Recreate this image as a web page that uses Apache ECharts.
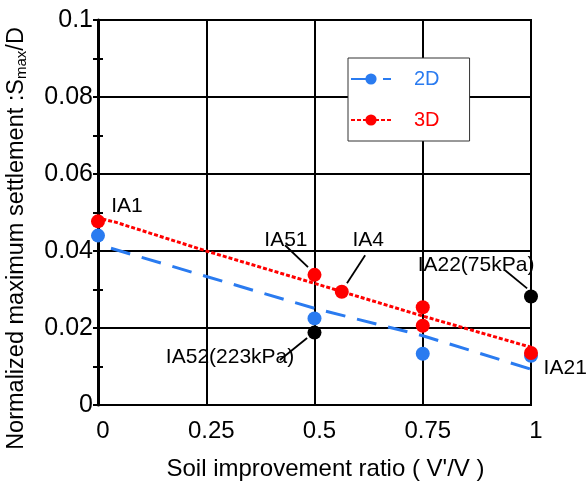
<!DOCTYPE html>
<html>
<head>
<meta charset="utf-8">
<script src="https://cdn.jsdelivr.net/npm/echarts@6/dist/echarts.min.js"></script>
<style>
html,body{margin:0;padding:0;background:#fff;}
#chart{width:588px;height:488px;}
</style>
</head>
<body>
<div id="chart"></div>
<script>
// ---- data ----
var xTicks = [0, 0.25, 0.5, 0.75, 1];
var yTicks = [0, 0.02, 0.04, 0.06, 0.08, 0.1];
var points2D = [[0, 0.0440], [0.5, 0.0225], [0.75, 0.0133], [1.0, 0.0128]];
var points3D = [[0, 0.0477], [0.5, 0.0338], [0.563, 0.0294], [0.75, 0.0254], [0.75, 0.0206], [1.0, 0.0135]];
var pointsBlack = [[0.5, 0.0188], [1.0, 0.0282]];
var trend2D = [[0.03, 0.0407], [0.5, 0.0251], [0.75, 0.0180], [1.0, 0.0093]];
var trend3D = [[0.01, 0.0483], [0.04, 0.0475], [0.25, 0.0400], [0.5, 0.0316], [0.75, 0.0231], [1.0, 0.0150]];
var labelNames = ['IA1', 'IA51', 'IA4', 'IA22(75kPa)', 'IA52(223kPa)', 'IA21'];
var labelPos = [[0.067, 0.0516], [0.434, 0.0427], [0.624, 0.0427], [0.873, 0.0363], [0.305, 0.0124], [1.079, 0.0096]];
var arrowFrom = [[0.432, 0.0415], [0.617, 0.0389], [0.420, 0.0117], [0.940, 0.0350]];
var arrowTo = [[0.485, 0.0358], [0.575, 0.0316], [0.483, 0.0174], [0.991, 0.0303]];

var FONT = 'Liberation Sans, Arial, sans-serif';
var BLUE = '#2a7bf0';
var RED = '#ff0000';

function fmt(v) { return String(+(+v).toFixed(2)); }

var chart = echarts.init(document.getElementById('chart'));
chart.setOption({
  animation: false,
  backgroundColor: '#fff',
  grid: { left: 98, right: 57, top: 20, bottom: 83, containLabel: false, outerBoundsMode: 'none',
          show: true, borderColor: '#000', borderWidth: 2, backgroundColor: 'transparent' },
  legend: {
    data: ['2D', '3D'],
    orient: 'vertical',
    left: 348, top: 58,
    padding: [11, 30, 11, 2],
    itemGap: 21,
    itemWidth: 40, itemHeight: 14,
    backgroundColor: '#fff',
    borderColor: '#333', borderWidth: 1,
    textStyle: { fontFamily: FONT, fontSize: 20, padding: [0, 0, 0, 18], color: 'inherit' }
  },
  xAxis: [{
    type: 'value', min: xTicks[0], max: xTicks[xTicks.length - 1], interval: 0.25,
    name: "Soil improvement ratio ( V'/V )", nameLocation: 'middle', nameGap: 52,
    nameTextStyle: { fontFamily: FONT, fontSize: 24, color: '#000', padding: [0, 0, 0, 22] },
    axisLine: { show: true, onZero: false, lineStyle: { color: '#000', width: 2 } },
    axisTick: { show: false },
    axisLabel: { fontFamily: FONT, fontSize: 24, color: '#000', margin: 14, padding: [0, 0, 0, 10], formatter: fmt },
    splitLine: { show: true, lineStyle: { color: '#000', width: 2 } }
  }],
  yAxis: [{
    type: 'value', min: yTicks[0], max: yTicks[yTicks.length - 1], interval: 0.02,
    name: '{a|Normalized maximum settlement :S}{s|max}{a|/D}', nameLocation: 'middle', nameGap: 69, nameRotate: 90,
    nameTextStyle: { padding: [0, 52, 0, 0], rich: {
      a: { fontFamily: FONT, fontSize: 23.5, color: '#000' },
      s: { fontFamily: FONT, fontSize: 15, color: '#000', verticalAlign: 'bottom', padding: [9, 0, 0, 0] }
    } },
    axisLine: { show: true, onZero: false, lineStyle: { color: '#000', width: 3 } },
    axisTick: { show: true, inside: true, length: 5, lineStyle: { color: '#000', width: 2 } },
    minorTick: { show: true, splitNumber: 2, length: 5, lineStyle: { color: '#000', width: 2 } },
    axisLabel: { fontFamily: FONT, fontSize: 25, color: '#000', margin: 5, formatter: fmt },
    splitLine: { show: true, lineStyle: { color: '#000', width: 2 } }
  }, {
    type: 'value', position: 'right', min: yTicks[0], max: yTicks[yTicks.length - 1], interval: 0.02,
    axisLine: { show: false },
    axisTick: { show: true, inside: true, length: 5, lineStyle: { color: '#000', width: 2 } },
    minorTick: { show: true, splitNumber: 2, length: 5, lineStyle: { color: '#000', width: 2 } },
    axisLabel: { show: false },
    splitLine: { show: false }
  }],
  series: [
    {
      name: '2D', type: 'line', data: trend2D, symbol: 'circle', symbolSize: 13, showSymbol: false,
      itemStyle: { color: BLUE },
      lineStyle: { color: BLUE, width: 3, type: [20, 12] }, z: 2
    },
    {
      name: '3D', type: 'line', data: trend3D, symbol: 'circle', symbolSize: 13, showSymbol: false,
      itemStyle: { color: RED },
      lineStyle: { color: RED, width: 3, type: [4, 2] }, z: 2
    },
    {
      name: '2D', type: 'scatter', data: points2D, symbolSize: 14,
      itemStyle: { color: BLUE, opacity: 1 }, z: 3
    },
    {
      name: '3D', type: 'scatter', data: points3D, symbolSize: 14,
      itemStyle: { color: RED, opacity: 1 }, z: 4
    },
    {
      name: 'black', type: 'scatter', data: pointsBlack, symbolSize: 14,
      itemStyle: { color: '#000', opacity: 1 }, z: 5,
      markLine: {
        silent: true, animation: false,
        symbol: ['none', 'arrow'], symbolSize: [0, 12],
        lineStyle: { color: '#000', width: 1.8, type: 'solid', opacity: 1 },
        itemStyle: { color: '#000', opacity: 1 },
        label: { show: false },
        data: arrowFrom.map(function (f, i) { return [{ coord: f }, { coord: arrowTo[i] }]; })
      }
    },
    {
      name: 'labels', type: 'scatter', symbolSize: 0, clip: false, silent: true, z: 6,
      itemStyle: { opacity: 1 },
      data: labelNames.map(function (n, i) { return { name: n, value: labelPos[i] }; }),
      label: { show: true, position: 'inside', formatter: '{b}', fontFamily: FONT, fontSize: 21, color: '#000', textBorderWidth: 0 }
    }
  ]
});
</script>
</body>
</html>
